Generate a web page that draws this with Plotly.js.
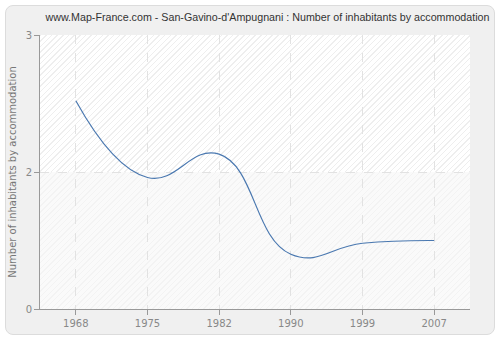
<!DOCTYPE html>
<html>
<head>
<meta charset="utf-8">
<script src="https://cdn.plot.ly/plotly-3.0.1.min.js"></script>
<style>
html,body{margin:0;padding:0;background:#fff;}
#wrap{position:relative;width:500px;height:340px;}
#box{position:absolute;left:5px;top:5px;width:488px;height:328px;background:#f0f0f0;border:1px solid #dcdcdc;border-radius:8px;}
#hatch1{position:absolute;left:40px;top:35px;width:430px;height:137px;background-color:#fff;
background-image:repeating-linear-gradient(135deg,#eeeeee 0px,#eeeeee 1px,transparent 1px,transparent 4px);}
#hatch2{position:absolute;left:40px;top:172px;width:430px;height:137px;background-color:#fafafa;
background-image:repeating-linear-gradient(135deg,#f3f3f3 0px,#f3f3f3 1px,transparent 1px,transparent 4px);}
#chart{position:absolute;left:0;top:0;width:500px;height:340px;}
</style>
</head>
<body>
<div id="wrap">
<div id="box"></div>
<div id="hatch1"></div>
<div id="hatch2"></div>
<div id="chart"></div>
</div>
<script>
const years = ["1968","1975","1982","1990","1999","2007"];
const values = [2.52, 1.96, 2.13, 1.40, 1.48, 1.50];
const yTickVals = [1, 2, 3];
const yTickText = ["0", "2", "3"];

const trace = {
  x: years, y: values, type: 'scatter', mode: 'lines',
  line: {shape: 'spline', smoothing: 1.3, color: '#4a78b0', width: 1.2},
  hoverinfo: 'skip'
};
const layout = {
  width: 500, height: 340,
  margin: {l: 40, r: 30, t: 35, b: 31},
  paper_bgcolor: 'rgba(0,0,0,0)', plot_bgcolor: 'rgba(0,0,0,0)',
  showlegend: false,
  title: {text: "www.Map-France.com - San-Gavino-d'Ampugnani : Number of inhabitants by accommodation",
    font: {family: 'Liberation Sans', size: 10.7, color: '#333'}, x: 0.535, xanchor: 'center', y: 0.95, yanchor: 'middle'},
  xaxis: {type: 'category', range: [-0.5, 5.5], showgrid: true, gridcolor: '#e2e2e2', griddash: 'dash', gridwidth: 1,
    showline: true, linecolor: '#999', linewidth: 1, ticks: 'outside', ticklen: 5, tickcolor: '#999',
    tickfont: {family: 'DejaVu Sans', size: 10, color: '#888'}, zeroline: false, fixedrange: true},
  yaxis: {range: [1, 3], tickvals: yTickVals, ticktext: yTickText, showgrid: true, gridcolor: '#e2e2e2', griddash: 'dash',
    showline: true, linecolor: '#999', linewidth: 1, ticks: 'outside', ticklen: 5, tickcolor: '#999',
    tickfont: {family: 'DejaVu Sans', size: 10, color: '#888'}, zeroline: false, fixedrange: true,
    title: {text: 'Number of inhabitants by accommodation', font: {family: 'DejaVu Sans', size: 10, color: '#777'}, standoff: 7}}
};
Plotly.newPlot('chart', [trace], layout, {displayModeBar: false, staticPlot: true});
</script>
</body>
</html>
